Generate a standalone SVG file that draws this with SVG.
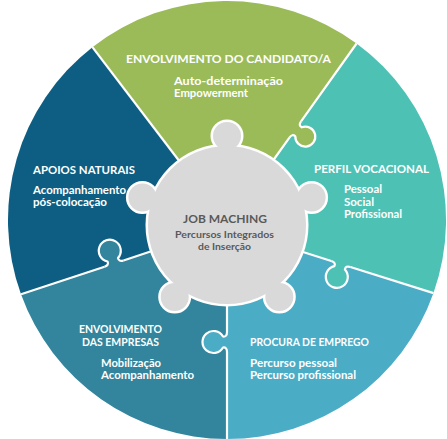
<svg xmlns="http://www.w3.org/2000/svg" width="447" height="439" viewBox="0 0 447 439">
<defs>
<style>
.sep{stroke:#fff;stroke-width:2.2;fill:none;stroke-linejoin:round}
.t{font-family:Lato,"Open Sans","Liberation Sans",sans-serif;font-weight:700;fill:#fff}
.h{font-size:11px}
.b{font-size:10.5px}
.c{font-family:Lato,"Open Sans","Liberation Sans",sans-serif;fill:#595959;font-weight:700}
.grey{fill:#D9D9D9}
.gout{fill:#fff;stroke:#fff;stroke-width:5}
</style>
</defs>
<rect width="447" height="439" fill="#fff"/>

<g id="sector-candidato">
<path fill="#9BBB59" d="M180,162 L92.4,47.2 A219,219 0 0 1 356.6,43.5 L272,162 L227,225 Z"/>
<text class="t h" x="126" y="62.5" textLength="205" lengthAdjust="spacingAndGlyphs">ENVOLVIMENTO DO CANDIDATO/A</text>
<text class="t b" x="174" y="84.5" textLength="109" lengthAdjust="spacingAndGlyphs">Auto-determinação</text>
<text class="t b" x="174" y="96.5" textLength="74" lengthAdjust="spacingAndGlyphs">Empowerment</text>
</g>

<g id="sector-perfil">
<path fill="#4EC1B5" d="M272,162 L356.6,43.5 A219,219 0 0 1 433.5,293.1 L303,252 L227,225 Z"/>
<text class="t b" x="314" y="173.3" textLength="115" lengthAdjust="spacingAndGlyphs">PERFIL VOCACIONAL</text>
<text class="t b" x="344" y="193.4" textLength="38" lengthAdjust="spacingAndGlyphs">Pessoal</text>
<text class="t b" x="344" y="205.8" textLength="30" lengthAdjust="spacingAndGlyphs">Social</text>
<text class="t b" x="344" y="218.3" textLength="58" lengthAdjust="spacingAndGlyphs">Profissional</text>
</g>

<g id="sector-procura">
<path fill="#4BACC6" d="M303,252 L433.5,293.1 A219,219 0 0 1 227,439 L227,304 L227,225 Z"/>
<text class="t b" x="250" y="346.3" textLength="119" lengthAdjust="spacingAndGlyphs">PROCURA DE EMPREGO</text>
<text class="t b" x="250" y="366.7" textLength="87" lengthAdjust="spacingAndGlyphs">Percurso pessoal</text>
<text class="t b" x="250" y="378.8" textLength="106" lengthAdjust="spacingAndGlyphs">Percurso profissional</text>
</g>

<g id="sector-empresas">
<path fill="#32859C" d="M227,304 L227,439 A219,219 0 0 1 21,294.3 L152,251 L227,225 Z"/>
<text class="t b" x="79" y="332.6" textLength="83" lengthAdjust="spacingAndGlyphs">ENVOLVIMENTO</text>
<text class="t b" x="82" y="345.8" textLength="77" lengthAdjust="spacingAndGlyphs">DAS EMPRESAS</text>
<text class="t b" x="101" y="366.8" textLength="60" lengthAdjust="spacingAndGlyphs">Mobilização</text>
<text class="t b" x="101" y="378.8" textLength="93" lengthAdjust="spacingAndGlyphs">Acompanhamento</text>
</g>

<g id="sector-apoios">
<path fill="#0D5E82" d="M152,251 L21,294.3 A219,219 0 0 1 92.4,47.2 L180,162 L227,225 Z"/>
<text class="t b" x="33" y="174.3" textLength="102" lengthAdjust="spacingAndGlyphs">APOIOS NATURAIS</text>
<text class="t b" x="33" y="193.8" textLength="93" lengthAdjust="spacingAndGlyphs">Acompanhamento</text>
<text class="t b" x="33" y="205.6" textLength="74" lengthAdjust="spacingAndGlyphs">pós-colocação</text>
</g>

<g id="separators">
<g transform="translate(295.25,129.44) rotate(-54.47)">
<path fill="#9BBB59" d="M-10,0 Q-5,0 -5.5,4 A10,10 0 1 0 5.5,4 Q5,0 10,0 L10,-3 L-10,-3 Z"/>
<path class="sep" d="M-10,0 Q-5,0 -5.5,4 A10,10 0 1 0 5.5,4 Q5,0 10,0"/>
</g>
<g transform="translate(340.86,263.94) rotate(17.5)">
<path fill="#4EC1B5" d="M-10,0 Q-5,0 -5.5,4 A11,11 0 1 0 5.5,4 Q5,0 10,0 L10,-3 L-10,-3 Z"/>
<path class="sep" d="M-10,0 Q-5,0 -5.5,4 A11,11 0 1 0 5.5,4 Q5,0 10,0"/>
</g>
<g transform="translate(227,342) rotate(90)">
<path fill="#4BACC6" d="M-10,0 Q-5,0 -5.5,4 A11,11 0 1 0 5.5,4 Q5,0 10,0 L10,-3 L-10,-3 Z"/>
<path class="sep" d="M-10,0 Q-5,0 -5.5,4 A11,11 0 1 0 5.5,4 Q5,0 10,0"/>
</g>
<g transform="translate(114.02,263.56) rotate(161.7)">
<path fill="#32859C" d="M-10,0 Q-5,0 -5.5,4 A11,11 0 1 0 5.5,4 Q5,0 10,0 L10,-3 L-10,-3 Z"/>
<path class="sep" d="M-10,0 Q-5,0 -5.5,4 A11,11 0 1 0 5.5,4 Q5,0 10,0"/>
</g>
<path class="sep" d="M180,162 L92.4,47.2"/>
<path class="sep" d="M272,162 L289.44,137.58 M301.06,121.30 L356.6,43.5"/>
<path class="sep" d="M303,252 L331.32,260.93 M350.40,266.95 L433.5,293.1"/>
<path class="sep" d="M227,300 L227,332 M227,352 L227,440"/>
<path class="sep" d="M152,251 L123.51,260.42 M104.53,266.70 L21,294.3"/>
</g>

<g id="center-job-maching">
<g class="gout">
<circle cx="227" cy="225" r="79"/>
<circle cx="227" cy="136" r="14"/>
<circle cx="311.6" cy="197.5" r="14"/>
<circle cx="279.3" cy="297" r="14"/>
<circle cx="174.7" cy="297" r="14"/>
<circle cx="142.4" cy="197.5" r="14"/>
</g>
<g class="grey">
<circle cx="227" cy="225" r="79"/>
<circle cx="227" cy="136" r="14"/>
<circle cx="311.6" cy="197.5" r="14"/>
<circle cx="279.3" cy="297" r="14"/>
<circle cx="174.7" cy="297" r="14"/>
<circle cx="142.4" cy="197.5" r="14"/>
</g>
<text class="c" x="225" y="223.3" font-size="12" text-anchor="middle" font-weight="600" textLength="84" lengthAdjust="spacingAndGlyphs">JOB MACHING</text>
<text class="c" x="224.5" y="237.7" font-size="9.5" text-anchor="middle" textLength="99" lengthAdjust="spacingAndGlyphs">Percursos Integrados</text>
<text class="c" x="224.5" y="250" font-size="9.5" text-anchor="middle" textLength="53" lengthAdjust="spacingAndGlyphs">de Inserção</text>
</g>
</svg>
